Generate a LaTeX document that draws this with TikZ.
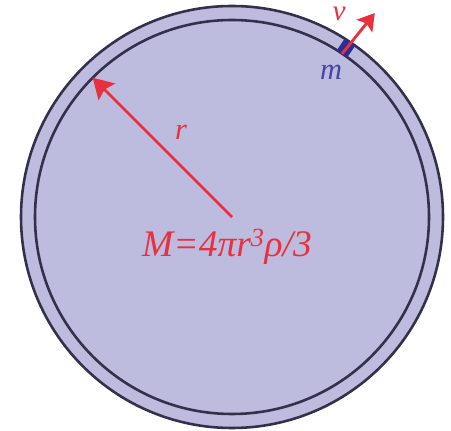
\documentclass[tikz,border=0pt]{standalone}
\usepackage{fontspec}
\setmainfont{Liberation Serif}
\usepackage{tikz}
\usetikzlibrary{arrows.meta,positioning,calc}
\definecolor{shellFill}{HTML}{BDBBDE}
\definecolor{rimInk}{HTML}{33304C}
\definecolor{vecRed}{HTML}{E8303E}
\definecolor{massBlue}{HTML}{2E2D96}
\definecolor{labBlue}{HTML}{4646A6}

\begin{document}
\begin{tikzpicture}[x=0.03cm,y=-0.03cm,
  every node/.style={inner sep=0pt,font=\fontsize{26}{30}\selectfont\itshape},
  rim/.style={draw=rimInk,line width=2.2pt},
  vec/.style={-{Stealth[length=0.6cm,width=0.7cm,inset=0.1cm]},vecRed,line width=2.4pt},
  lbl/.style={anchor=base,vecRed}]
\useasboundingbox (0,0) rectangle (451,431);
\def\Rout{211}
\def\Rin{197}
% --- shell
\coordinate (O) at (232,217);
\fill[shellFill] (O) circle (\Rout);
\draw[rim] (O) circle (\Rout);
\draw[rim] (O) circle (\Rin);
% --- radius and mass
\coordinate (rim) at ($(O)+(-135:\Rin)$);
\draw[vec] (O) -- (rim);
\node[lbl] (rlab) at (181,140) {r};
\node[lbl,font=\fontsize{32}{36}\selectfont\itshape] (Mlab) at (227,257) {M=4πr\textsuperscript{3}ρ/3};
% --- orbiting mass
\node[fill=massBlue,minimum width=0.42cm,minimum height=0.38cm,rotate=56] (mass) at ($(O)+(-56:204)$) {};
\coordinate (vtip) at ($(O)+(-55:249)$);
\draw[vec,-{Stealth[length=0.5cm,width=0.6cm,inset=0.1cm]}] (mass.west) -- (vtip);
\node[lbl,font=\fontsize{25}{29}\selectfont\itshape] (vlab) at (339,21) {v};
\node[lbl,labBlue] (mlab) at (331,80) {m};
\end{tikzpicture}
\end{document}
